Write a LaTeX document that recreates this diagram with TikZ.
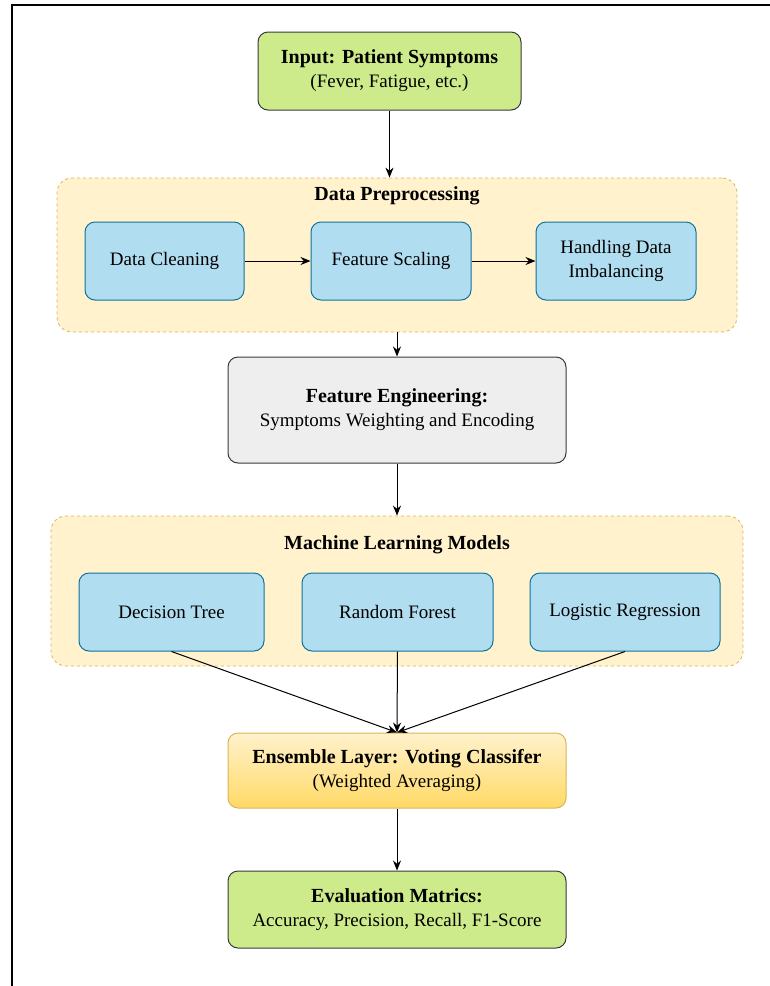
\documentclass[tikz,border=0pt]{standalone}
\usepackage{fontspec}
\setmainfont{Liberation Serif}
\usetikzlibrary{arrows.meta}
\definecolor{limefill}{HTML}{CDEB8B}
\definecolor{darkline}{HTML}{36393D}
\definecolor{bluefill}{HTML}{B1DDF0}
\definecolor{blueline}{HTML}{10739E}
\definecolor{groupfill}{HTML}{FFF2CC}
\definecolor{groupline}{HTML}{D6B656}
\definecolor{greyfill}{HTML}{EEEEEE}
\definecolor{goldfill}{HTML}{FFD966}
\newcommand{\headline}[1]{{\fontsize{20}{24}\selectfont\bfseries #1}}
\begin{document}
\begin{tikzpicture}[x=1pt,y=-1pt,>={Stealth[length=10pt,width=8pt]},
	box/.style={draw=darkline,line width=1pt,rounded corners=10pt,align=center,
		inner sep=0pt,font=\fontsize{19}{24}\selectfont},
	stage/.style={box,fill=limefill},
	task/.style={box,draw=blueline,fill=bluefill,minimum height=78pt},
	group/.style={draw=groupline,dashed,line width=0.8pt,fill=groupfill,rounded corners=15pt},
	grouptitle/.style={font=\fontsize{20}{24}\selectfont\bfseries},
	flow/.style={->,line width=1pt,black}]
	\useasboundingbox (0,0) rectangle (769,986);
	\draw[line width=1.2pt] (12,5) rectangle (800,1010);
	% input
	\node[stage,minimum width=263pt,minimum height=78pt] (input) at (389.5,71)
	{\headline{Input: Patient Symptoms}\\(Fever, Fatigue, etc.)};
	% preprocessing group
	\node[group,minimum width=680pt,minimum height=154pt] (prep) at (397,255) {};
	\node[grouptitle] (preptitle) at (397,196) {Data Preprocessing};
	\node[task,minimum width=159pt] (clean) at (164.5,261) {Data Cleaning};
	\node[task,minimum width=160pt] (scale) at (391,261) {Feature Scaling};
	\node[task,minimum width=160pt] (imbal) at (616,261) {Handling Data\\Imbalancing};
	% feature engineering
	\node[box,fill=greyfill,minimum width=338pt,minimum height=106pt] (feat) at (397,410)
	{\headline{Feature Engineering:}\\Symptoms Weighting and Encoding};
	% models group
	\node[group,minimum width=692pt,minimum height=150pt] (models) at (397,591) {};
	\node[grouptitle] (modeltitle) at (397,545) {Machine Learning Models};
	\node[task,minimum width=185pt] (tree) at (171.5,612) {Decision Tree};
	\node[task,minimum width=191pt] (forest) at (397.5,612) {Random Forest};
	\node[task,minimum width=190pt] (logit) at (625,612) {Logistic Regression};
	% ensemble and evaluation
	\node[box,draw=groupline,top color=groupfill,bottom color=goldfill,
	minimum width=338pt,minimum height=75pt] (ens) at (397,770.5)
	{\headline{Ensemble Layer: Voting Classifer}\\(Weighted Averaging)};
	\node[stage,minimum width=338pt,minimum height=77pt] (eval) at (397,909.5)
	{\headline{Evaluation Matrics:}\\Accuracy, Precision, Recall, F1-Score};
	% connectors
	\draw[flow] (input.south) -- (input.south |- prep.north);
	\draw[flow] (clean) -- (scale);
	\draw[flow] (scale) -- (imbal);
	\draw[flow] (prep.south -| feat.north) -- (feat.north);
	\draw[flow] (feat.south) -- (models.north);
	\draw[flow] (tree.south) -- (ens.north);
	\draw[flow] (forest.south) -- (ens.north);
	\draw[flow] (logit.south) -- (ens.north);
	\draw[flow] (ens.south) -- (eval.north);
\end{tikzpicture}
\end{document}
